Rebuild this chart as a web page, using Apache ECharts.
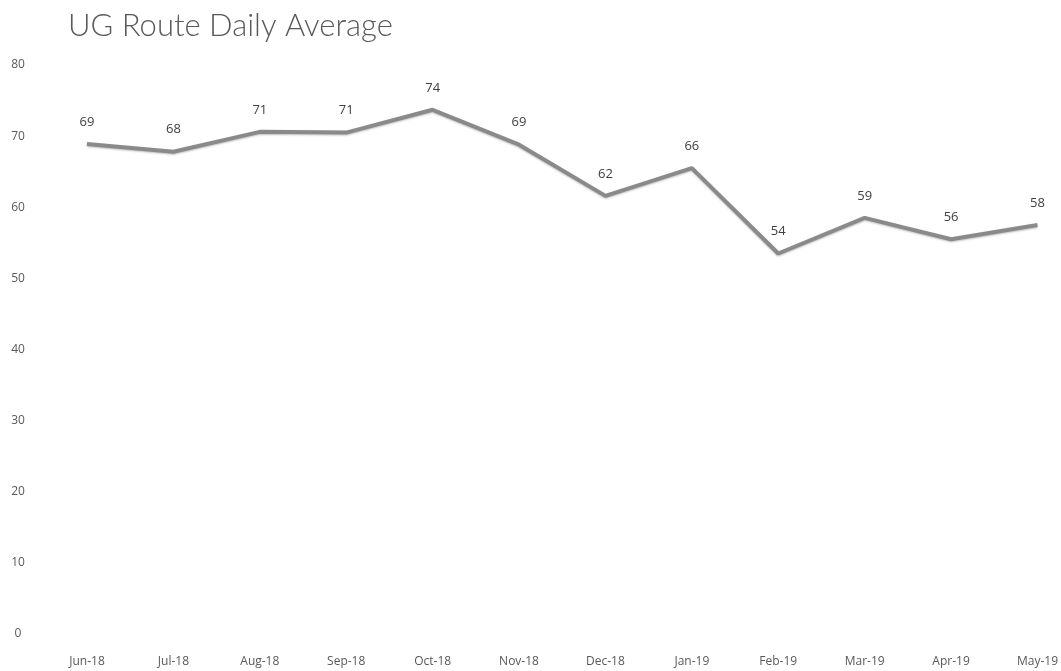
<!DOCTYPE html>
<html>
<head>
<meta charset="utf-8">
<title>UG Route Daily Average</title>
<script src="https://cdn.jsdelivr.net/npm/echarts@6/dist/echarts.min.js"></script>
<style>
  html, body { margin: 0; padding: 0; background: #fff; }
  #chart { width: 1061px; height: 671px; }
</style>
</head>
<body>
<div id="chart"></div>
<script>
// months on the x axis
var months = ['Jun-18', 'Jul-18', 'Aug-18', 'Sep-18', 'Oct-18', 'Nov-18',
  'Dec-18', 'Jan-19', 'Feb-19', 'Mar-19', 'Apr-19', 'May-19']
// daily average per month (labels show the rounded value)
var dailyAvg = [68.9, 67.8, 70.6, 70.5, 73.7, 68.8, 61.6, 65.5, 53.5, 58.5, 55.5, 57.5]
var yTicks = [0, 10, 20, 30, 40, 50, 60, 70, 80]

var chart = echarts.init(document.getElementById('chart'))
var option = {
  animation: false,
  title: {
    text: 'UG Route Daily Average',
    left: 63,
    top: 5,
    textStyle: {
      fontFamily: 'Lato',
      fontWeight: 300,
      fontSize: 31,
      color: '#595959'
    }
  },
  grid: {
    left: 87,
    right: 23,
    top: 65,
    bottom: 37
  },
  xAxis: {
    type: 'category',
    data: months,
    boundaryGap: false,
    axisLine: { show: false },
    axisTick: { show: false },
    axisLabel: {
      margin: 22,
      fontFamily: 'Open Sans',
      fontSize: 12,
      color: '#595959'
    }
  },
  yAxis: {
    type: 'value',
    min: yTicks[0],
    max: yTicks[yTicks.length - 1],
    interval: 10,
    splitLine: { show: false },
    axisLine: { show: false },
    axisTick: { show: false },
    axisLabel: {
      align: 'center',
      margin: 69,
      fontFamily: 'Open Sans',
      fontSize: 12,
      color: '#595959'
    }
  },
  series: [{
    name: 'UG Route Daily Average',
    type: 'line',
    data: dailyAvg,
    symbol: 'circle',
    symbolSize: 1,
    itemStyle: { color: 'rgba(0,0,0,0)' },
    lineStyle: {
      color: '#8a8a8a',
      width: 4,
      shadowColor: 'rgba(0,0,0,0.25)',
      shadowBlur: 2,
      shadowOffsetY: 1
    },
    label: {
      show: true,
      position: 'top',
      distance: 15,
      fontFamily: 'Open Sans',
      fontSize: 13,
      color: '#404040',
      formatter: function (p) {
        return Math.round(p.value)
      }
    }
  }]
}
chart.setOption(option)
</script>
</body>
</html>
